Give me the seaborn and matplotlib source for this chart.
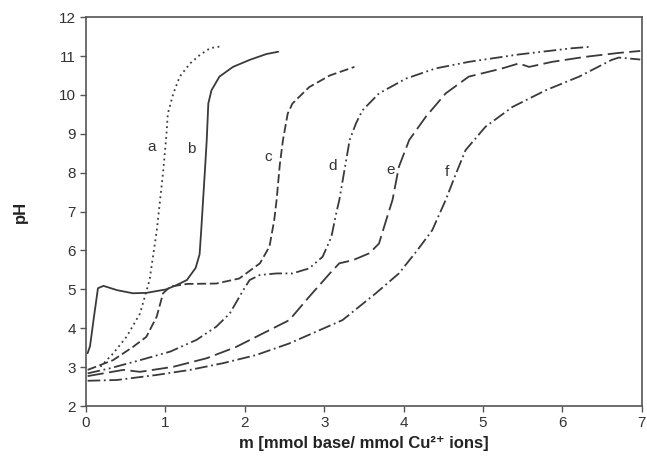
import pandas as pd
import matplotlib
matplotlib.use("Agg")
import matplotlib.pyplot as plt
import seaborn as sns

# Titration curves
a_x = [0.18, 0.34, 0.51, 0.68, 0.8, 0.89, 0.97, 1.01, 1.03, 1.1, 1.18, 1.31, 1.43, 1.56, 1.7]
a_y = [3.01, 3.35, 3.78, 4.38, 5.24, 6.5, 8.0, 8.92, 9.52, 10.04, 10.47, 10.81, 11.02, 11.2, 11.25]

b_x = [0.02, 0.05, 0.1, 0.15, 0.22, 0.39, 0.59, 0.76, 1.01, 1.14, 1.27, 1.38, 1.43, 1.45, 1.5, 1.52, 1.54, 1.58, 1.68, 1.85, 2.06, 2.27, 2.42]
b_y = [3.36, 3.54, 4.3, 5.03, 5.09, 4.98, 4.9, 4.91, 5.0, 5.11, 5.24, 5.55, 5.9, 6.5, 8.15, 8.84, 9.78, 10.12, 10.47, 10.72, 10.9, 11.05, 11.11]

c_x = [0.02, 0.34, 0.59, 0.76, 0.89, 0.97, 1.06, 1.27, 1.64, 1.93, 2.19, 2.31, 2.37, 2.4, 2.44, 2.48, 2.54, 2.6, 2.81, 3.07, 3.38]
c_y = [2.93, 3.18, 3.52, 3.78, 4.3, 4.9, 5.07, 5.14, 5.15, 5.28, 5.67, 6.1, 6.78, 7.3, 8.2, 8.84, 9.52, 9.78, 10.2, 10.5, 10.72]

d_x = [0.02, 0.3, 0.68, 1.06, 1.39, 1.64, 1.81, 1.98, 2.06, 2.19, 2.4, 2.6, 2.81, 2.98, 3.09, 3.15, 3.19, 3.32, 3.4, 3.48, 3.69, 4.03, 4.4, 4.82, 5.45, 6.12, 6.37]
d_y = [2.84, 2.97, 3.18, 3.4, 3.7, 4.04, 4.38, 4.98, 5.24, 5.37, 5.41, 5.41, 5.54, 5.84, 6.35, 6.95, 7.3, 8.84, 9.27, 9.6, 10.04, 10.42, 10.68, 10.85, 11.04, 11.2, 11.24]

e_x = [0.02, 0.47, 0.68, 1.1, 1.52, 1.89, 2.23, 2.56, 2.81, 3.07, 3.19, 3.36, 3.57, 3.69, 3.78, 3.86, 3.94, 4.07, 4.28, 4.53, 4.82, 5.24, 5.45, 5.58, 5.87, 6.29, 6.71, 6.98]
e_y = [2.77, 2.93, 2.88, 3.01, 3.23, 3.52, 3.87, 4.21, 4.81, 5.41, 5.67, 5.75, 5.93, 6.18, 6.78, 7.3, 8.15, 8.84, 9.44, 10.04, 10.47, 10.68, 10.81, 10.72, 10.85, 10.98, 11.08, 11.13]

f_x = [0.02, 0.39, 0.89, 1.31, 1.72, 2.14, 2.56, 2.94, 3.23, 3.65, 3.94, 4.17, 4.36, 4.53, 4.66, 4.78, 5.03, 5.37, 5.79, 6.21, 6.62, 6.71, 6.98]
f_y = [2.65, 2.67, 2.8, 2.93, 3.1, 3.31, 3.61, 3.95, 4.21, 4.9, 5.41, 6.0, 6.52, 7.3, 7.98, 8.58, 9.18, 9.69, 10.12, 10.47, 10.9, 10.96, 10.91]

curve_names = ["a", "b", "c", "d", "e", "f"]
label_x = [0.83, 1.33, 2.29, 3.11, 3.83, 4.55]
label_y = [8.67, 8.6, 8.4, 8.17, 8.07, 8.02]

xs = [a_x, b_x, c_x, d_x, e_x, f_x]
ys = [a_y, b_y, c_y, d_y, e_y, f_y]
dash_styles = [(0, (1, 2)), "-", (0, (5, 2)), (0, (7, 2, 1, 2, 1, 2)), (0, (9, 3)), (0, (7, 2, 1, 2))]

sns.set_style("white")
plt.rcParams["font.family"] = ["Liberation Sans", "DejaVu Sans"]

fig = plt.figure(figsize=(6.47, 4.63), dpi=100)
ax = fig.add_axes([0.133, 0.123, 0.859, 0.840])

line_color = "#3a3a3a"
for name, x, y, ls in zip(curve_names, xs, ys, dash_styles):
    df = pd.DataFrame({"m": x, "pH": y})
    sns.lineplot(data=df, x="m", y="pH", ax=ax, color=line_color,
                 linestyle=ls, linewidth=1.3, sort=False, estimator=None)

for name, lx, ly in zip(curve_names, label_x, label_y):
    ax.text(lx, ly, name, ha="center", va="center", fontsize=11, color="#333333")

ax.set_xlim(0, 7)
ax.set_ylim(2, 12)
ax.set_xticks(range(0, 8))
ax.set_yticks(range(2, 13))
ax.set_xlabel("m [mmol base/ mmol Cu²⁺ ions]", fontsize=12, fontweight="bold", color="#222222")
ax.set_ylabel("pH", fontsize=12, fontweight="bold", color="#222222", labelpad=22)
ax.tick_params(axis="both", direction="out", length=4, width=1, colors="#555555",
               labelsize=11, labelcolor="#333333", left=True, bottom=True)
for side in ["left", "bottom", "top", "right"]:
    ax.spines[side].set_visible(True)
    ax.spines[side].set_color("#555555")
    ax.spines[side].set_linewidth(1.2)
ax.grid(False)

fig.savefig("out.png", dpi=100)
